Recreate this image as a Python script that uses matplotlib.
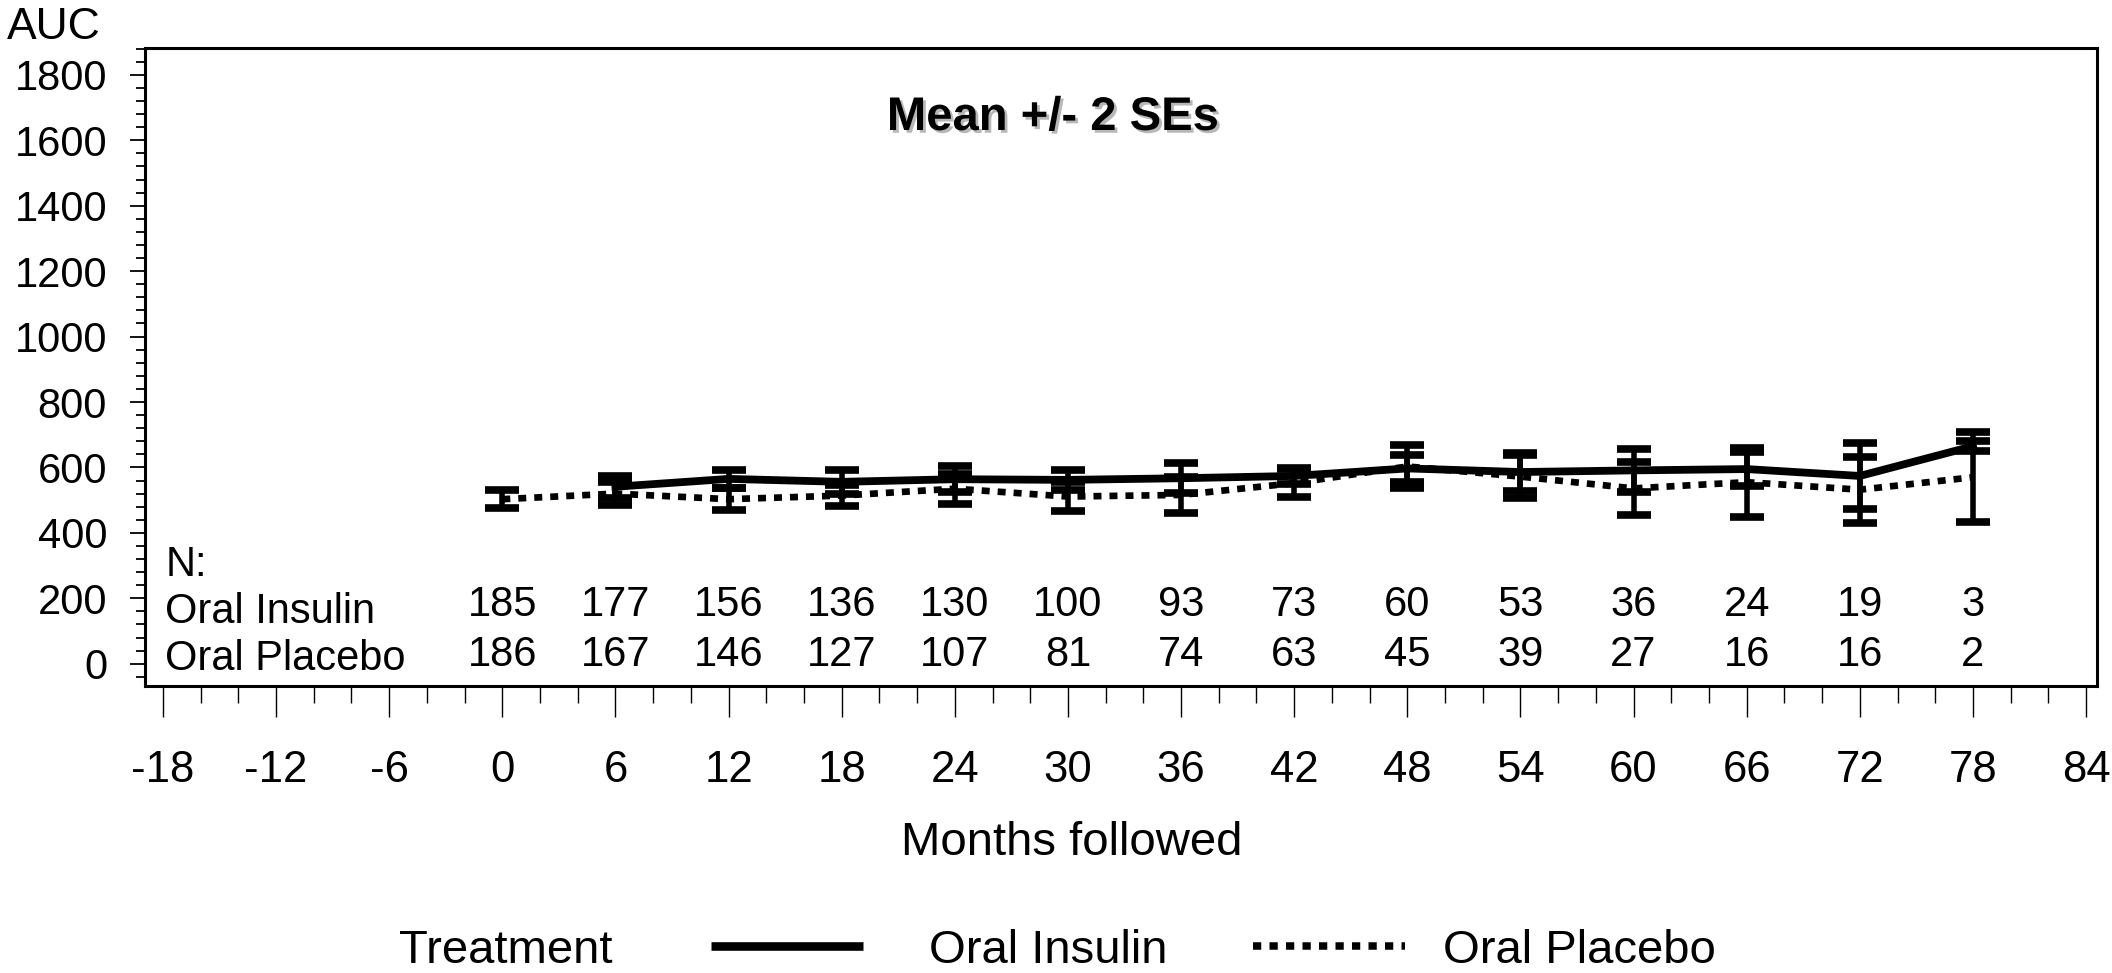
import numpy as np
import matplotlib
matplotlib.use("Agg")
import matplotlib.pyplot as plt
from matplotlib.lines import Line2D
from matplotlib.ticker import MultipleLocator
import matplotlib.patheffects as pe

plt.rcParams['font.family'] = ['Liberation Sans', 'DejaVu Sans']

# ---------------- data ----------------
months = [0, 6, 12, 18, 24, 30, 36, 42, 48, 54, 60, 66, 72, 78]
insulin_mean = [np.nan, 541, 565, 556, 564, 562, 567, 574, 597, 586, 591, 595, 574, 665]
insulin_2se = [np.nan, 33, 28, 36, 39, 31, 46, 24, 41, 57, 65, 51, 102, 15]
placebo_mean = [503, 520, 503, 514, 535, 511, 516, 552, 603, 572, 536, 555, 532, 570]
placebo_2se = [28, 34, 33, 33, 46, 43, 56, 43, 66, 66, 80, 105, 101, 138]
n_insulin = [185, 177, 156, 136, 130, 100, 93, 73, 60, 53, 36, 24, 19, 3]
n_placebo = [186, 167, 146, 127, 107, 81, 74, 63, 45, 39, 27, 16, 16, 2]
x_ticks = list(range(-18, 85, 6))
y_ticks = list(range(0, 1801, 200))

W, H = 2112, 973
fig = plt.figure(figsize=(W / 100, H / 100), dpi=100)
ax = fig.add_axes([145 / W, 1 - 686 / H, (2097 - 145) / W, (686 - 48) / H])

ax.set_xlim(-18.95, 84.58)
ax.set_ylim(-68, 1882)

err_kw = dict(color='black', ecolor='black', elinewidth=4.0, capsize=12.5, capthick=5.5)

ax.errorbar(months, placebo_mean, yerr=placebo_2se, lw=4.8,
            linestyle=(0, (1.2, 1.2)), dash_capstyle='butt', **err_kw)
ax.errorbar(months, insulin_mean, yerr=insulin_2se, lw=5.6,
            linestyle='-', **err_kw)

# ticks
ax.set_xticks(x_ticks)
ax.set_xticklabels([str(v) for v in x_ticks])
ax.xaxis.set_minor_locator(MultipleLocator(2))
ax.set_yticks(y_ticks)
ax.yaxis.set_minor_locator(MultipleLocator(40))
ax.tick_params(axis='x', which='major', direction='out', length=22, width=1.0,
               pad=24, labelsize=31.5)
ax.tick_params(axis='x', which='minor', direction='out', length=12, width=1.0)
ax.tick_params(axis='y', which='major', direction='out', length=10.8, width=1.3,
               pad=16.5, labelsize=30)
ax.tick_params(axis='y', which='minor', direction='out', length=6.5, width=1.3)
for s in ax.spines.values():
    s.set_linewidth(2.2)

# N table
ax.text(-17.85, 268, "N:", fontsize=30, ha='left', va='baseline')
ax.text(-17.9, 125, "Oral Insulin", fontsize=30, ha='left', va='baseline')
ax.text(-17.9, -18, "Oral Placebo", fontsize=30, ha='left', va='baseline')
for m, a, b in zip(months, n_insulin, n_placebo):
    ax.text(m, 146, str(a), fontsize=30, ha='center', va='baseline')
    ax.text(m, -7, str(b), fontsize=30, ha='center', va='baseline')

# title with shadow
t = fig.text(1053 / W, 1 - 130 / H, "Mean +/- 2 SEs", fontsize=34, fontweight='bold',
             ha='center', va='baseline')
t.set_path_effects([pe.SimplePatchShadow(offset=(2, -2), shadow_rgbFace='#888888', alpha=0.6),
                    pe.Normal()])

fig.text(6.7 / W, 1 - 39 / H, "AUC", fontsize=32, ha='left', va='baseline')
fig.text(1072 / W, 1 - 855 / H, "Months followed", fontsize=34, ha='center', va='baseline')

# legend
ly = 1 - 946 / H
fig.text(398.7 / W, 1 - 963 / H, "Treatment", fontsize=34, ha='left', va='baseline')
fig.add_artist(Line2D([711 / W, 863 / W], [ly, ly], transform=fig.transFigure,
                      color='black', lw=6.2, solid_capstyle='butt'))
fig.text(929.4 / W, 1 - 963 / H, "Oral Insulin", fontsize=34, ha='left', va='baseline')
fig.add_artist(Line2D([1253 / W, 1405 / W], [ly, ly], transform=fig.transFigure,
                      color='black', lw=5.4, linestyle=(0, (1.1, 1.1)), dash_capstyle='butt'))
fig.text(1442.6 / W, 1 - 963 / H, "Oral Placebo", fontsize=34, ha='left', va='baseline')

fig.savefig("out.png", dpi=100)
